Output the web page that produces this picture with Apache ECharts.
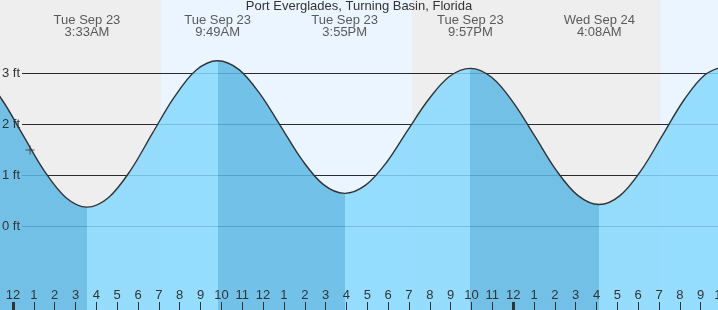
<!DOCTYPE html>
<html>
<head>
<meta charset="utf-8">
<script src="https://cdn.jsdelivr.net/npm/echarts@6/dist/echarts.min.js"></script>
<style>html,body{margin:0;padding:0;}#c{width:718px;height:310px;}</style>
</head>
<body>
<div id="c"></div>
<script>
// ---- data (hours from Tue Sep 23 00:00) ----
const chartTitle = 'Port Everglades, Turning Basin, Florida';
const curveTimes = [-2.6,-1.58,-0.55,0.48,1.5,2.53,
  3.55,4.59,5.64,6.68,7.73,8.77,
  9.817,10.83,11.85,12.87,13.88,14.9,
  15.917,16.92,17.93,18.93,19.94,20.94,
  21.95,22.98,24.01,25.04,26.07,27.1,
  28.133,29.14,30.16,31.17,32.18,33.19,34.2];
const curveHeights = [3.20,3.01,2.50,1.79,1.09,0.57,
  0.38,0.57,1.10,1.82,2.53,3.06,
  3.25,3.08,2.60,1.95,1.30,0.82,
  0.65,0.81,1.26,1.88,2.49,2.94,
  3.10,2.92,2.43,1.77,1.10,0.61,
  0.43,0.61,1.11,1.79,2.47,2.97,3.15];
const tideTimes = [3.55, 9.817, 15.917, 21.95, 28.133, 34.2];
const tideHeights = [0.38, 3.25, 0.65, 3.10, 0.43, 3.15];
const tideDays = ['Tue Sep 23','Tue Sep 23','Tue Sep 23','Tue Sep 23','Wed Sep 24','Wed Sep 24'];
const tideClock = ['3:33AM','9:49AM','3:55PM','9:57PM','4:08AM','10:12AM'];
const nightRanges = [[-1, 7.11], [19.15, 31.07]];
const midnights = [0, 24];
const levels = [0, 1, 2, 3];
const nowTime = [0.82];
const nowHeight = [1.50];

// ---- build ----
const points = curveTimes.map((t, i) => [t, curveHeights[i]]);
const pieces = [];
let prevT = -100, prevH = curveHeights[0];
tideTimes.forEach((t, i) => {
  const falling = tideHeights[i] < prevH;
  pieces.push({ gte: prevT, lt: i === tideTimes.length - 1 ? 100 : t, color: falling ? '#5cb8e5' : '#86d9ff' });
  prevT = t; prevH = tideHeights[i];
});

const FONT = "'Liberation Sans', Arial, sans-serif";
const PXH = 20.84, ORIGIN = 13;
const chart = echarts.init(document.getElementById('c'), null, { renderer: 'canvas' });
chart.setOption({
  animation: false,
  backgroundColor: '#ebf5ff',
  textStyle: { fontFamily: FONT },
  title: {
    text: chartTitle, left: 'center', top: 0, padding: 0,
    textStyle: { fontSize: 13, fontWeight: 'normal', color: '#333', fontFamily: FONT }
  },
  grid: { left: ORIGIN - PXH, right: 718 - (ORIGIN + 34 * PXH), top: 0, bottom: 0, containLabel: false, outerBoundsMode: 'none' },
  xAxis: {
    type: 'value', min: -1, max: 34, interval: 1, z: 10,
    axisLine: { show: false, onZero: false },
    axisTick: { show: true, inside: true, length: 8, lineStyle: { color: '#333', width: 1 } },
    axisLabel: {
      inside: true, margin: 8, fontSize: 13, color: '#333', fontFamily: FONT,
      showMinLabel: true, showMaxLabel: true, hideOverlap: false,
      formatter: v => { const h = ((Math.round(v) % 12) + 12) % 12; return h === 0 ? '12' : String(h); }
    },
    splitLine: { show: false }
  },
  yAxis: { type: 'value', min: 4.441 - 310 / 51, max: 4.441, show: false, splitLine: { show: false } },
  visualMap: { type: 'piecewise', show: false, dimension: 0, seriesIndex: 0, pieces: pieces },
  series: [
    {
      type: 'line', data: points, smooth: 0.34, showSymbol: false, z: 2,
      lineStyle: { color: '#333', width: 1.4 },
      areaStyle: { origin: 'start', opacity: 0.85 }
    },
    {
      type: 'scatter', z: 3, symbolSize: 0, silent: true,
      data: tideTimes.map((t, i) => ({ value: [t, 3.931], name: tideDays[i] + '\n' + tideClock[i] })),
      label: { show: true, position: 'inside', formatter: p => p.name, fontSize: 13, lineHeight: 12, color: '#333', fontFamily: FONT },
      markArea: {
        silent: true, z: 0,
        itemStyle: { color: '#eeeeee', opacity: 1 },
        data: nightRanges.map(r => [{ xAxis: r[0] }, { xAxis: r[1] }])
      },
      markLine: {
        silent: true, z: 1, symbol: ['none', 'none'],
        lineStyle: { color: '#2a2a2a', width: 1, type: 'solid' },
        label: { show: false },
        data: levels.map(v => [{ x: 22, yAxis: v }, { x: '100%', yAxis: v }])
      }
    },
    {
      type: 'scatter', z: 4, silent: true,
      data: nowTime.map((t, i) => [t, nowHeight[i]]),
      symbol: 'path://M0 5 L10 5 M5 0 L5 10', symbolSize: 9,
      itemStyle: { color: 'none', borderColor: '#333', borderWidth: 1 },
      markLine: {
        silent: true, z: 5, symbol: ['none', 'none'],
        lineStyle: { color: '#333', width: 3, type: 'solid' },
        label: { show: false },
        data: levels.map(v => [
            { x: 22, yAxis: v, lineStyle: { color: 'rgba(0,0,0,0)', width: 0 },
              label: { show: true, position: 'start', distance: 2, color: '#333', fontSize: 13, fontFamily: FONT, formatter: v + ' ft' } },
            { x: 23, yAxis: v }])
          .concat(midnights.map(m => [{ xAxis: m, y: 302 }, { xAxis: m, y: 310 }]))
      }
    }
  ]
});
</script>
</body>
</html>
